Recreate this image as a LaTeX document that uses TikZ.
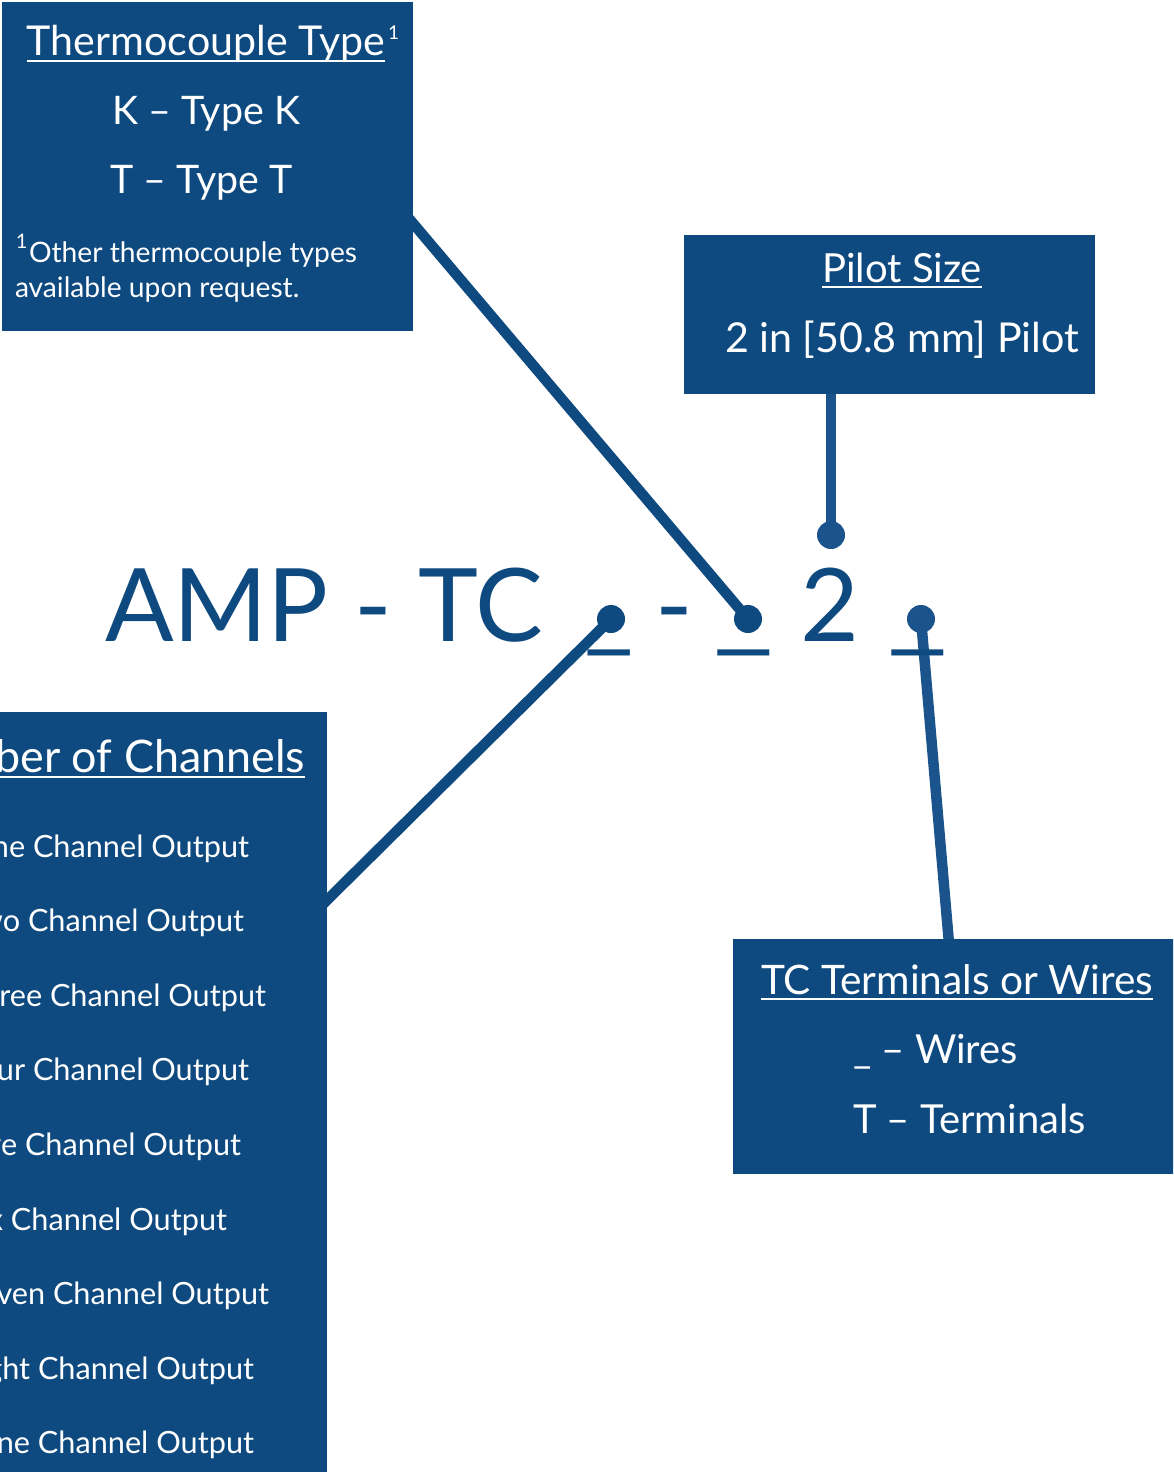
\documentclass[tikz,border=0pt]{standalone}
\usepackage{fontspec}
\setmainfont{Lato}
\usepackage{graphicx}
\usetikzlibrary{backgrounds}
\definecolor{boxc}{HTML}{0E4A7F}
\definecolor{lnc}{HTML}{1B548C}
\newsavebox\mb
\newlength\mbl
\newcommand\fitsz[3]{\sbox\mb{\fontsize{20pt}{24pt}\selectfont #2}\setlength\mbl{\wd\mb}\pgfmathsetmacro#1{20*#3/\mbl}}
\newcommand\fs[1]{\fontsize{#1pt}{#1pt}\selectfont}
\newsavebox\ulb
\newcommand\ulx[1]{\sbox\ulb{#1}\rlap{\rule[-6pt]{\wd\ulb}{2.4pt}}\usebox\ulb}
\begin{document}
\fitsz{\szTh}{Thermocouple Type}{358}%
\fitsz{\szK}{K – Type K}{188}%
\fitsz{\szFn}{Other thermocouple types}{328}%
\fitsz{\szPS}{Pilot Size}{160}%
\fitsz{\szPi}{2 in [50.8 mm] Pilot}{354}%
\fitsz{\szMain}{AMP - TC}{438}%
\fitsz{\szTCh}{TC Terminals or Wires}{392}%
\fitsz{\szTCi}{T – Terminals}{233}%
\fitsz{\szNH}{Channels}{181}%
\fitsz{\szIt}{Channel Output}{216}%
\begin{tikzpicture}[x=1pt,y=-1pt,
  box/.style={fill=boxc,draw=none,anchor=north west,inner sep=0pt,outer sep=0pt},
  wtxt/.style={text=white,inner sep=0pt,outer sep=0pt},
  btxt/.style={text=boxc,inner sep=0pt,outer sep=0pt},
  dotn/.style={circle,fill=boxc,minimum size=28pt,inner sep=0pt,outer sep=0pt},
  dotl/.style={dotn,fill=lnc},
  conn/.style={line width=10.5pt,draw=boxc},
  connl/.style={line width=10.5pt,draw=lnc}]
\useasboundingbox (0,0) rectangle (1173,1472);
\clip (0,0) rectangle (1173,1472);

% boxes
\node[box,minimum width=411pt,minimum height=329pt] (thbox) at (2,2) {};
\node[box,minimum width=411pt,minimum height=159pt] (psbox) at (684,235) {};
\node[box,minimum width=500pt,minimum height=235pt] (tcbox) at (733,939) {};
\node[box,minimum width=527pt,minimum height=800pt] (chbox) at (-200,712) {};

% thermocouple type
\node[wtxt,anchor=base west] (th0) at (27,56) {\fs{\szTh}\ulx{Thermocouple Type}};
\node[wtxt,anchor=base west] (th0s) at (388,40) {\fs{19}1};
\node[wtxt,anchor=base] (th1) at (206,124) {\fs{\szK}K – Type K};
\node[wtxt,anchor=base] (th2) at (201.5,193) {\fs{\szK}T – Type T};
\node[wtxt,anchor=base west] (thfs) at (16,248) {\fs{20}1};
\node[wtxt,anchor=base west] (thf1) at (29,262) {\fs{\szFn}Other thermocouple types};
\node[wtxt,anchor=base west] (thf2) at (15,297) {\fs{\szFn}available upon request.};

% pilot size
\node[wtxt,anchor=base west] (ps0) at (822,282) {\fs{\szPS}\ulx{Pilot Size}};
\node[wtxt,anchor=base west] (ps1) at (725,352) {\fs{\szPi}2 in [50.8 mm] Pilot};

% TC terminals
\node[wtxt,anchor=base west] (tc0) at (761,994) {\fs{\szTCh}\ulx{TC Terminals or Wires}};
\node[wtxt,anchor=base west] (tc1) at (853,1063) {\fs{\szTCi}\_ – Wires};
\node[wtxt,anchor=base west] (tc2) at (853,1133) {\fs{\szTCi}T – Terminals};

% channels
\node[wtxt,anchor=base east] (ch0) at (305,772) {\fs{\szNH}\ulx{Number of Channels}};
\node[wtxt,anchor=base east] (ch1) at (249,857) {\fs{\szIt}One Channel Output};
\node[wtxt,anchor=base east] (ch2) at (244,931.6) {\fs{\szIt}Two Channel Output};
\node[wtxt,anchor=base east] (ch3) at (266,1006.2) {\fs{\szIt}Three Channel Output};
\node[wtxt,anchor=base east] (ch4) at (249,1080.8) {\fs{\szIt}Four Channel Output};
\node[wtxt,anchor=base east] (ch5) at (241,1155.4) {\fs{\szIt}Five Channel Output};
\node[wtxt,anchor=base east] (ch6) at (227,1230) {\fs{\szIt}Six Channel Output};
\node[wtxt,anchor=base east] (ch7) at (269,1304.6) {\fs{\szIt}Seven Channel Output};
\node[wtxt,anchor=base east] (ch8) at (254,1379.2) {\fs{\szIt}Eight Channel Output};
\node[wtxt,anchor=base east] (ch9) at (254,1453.8) {\fs{\szIt}Nine Channel Output};

% part number
\node[btxt,anchor=base west] (amp) at (105,641) {\fs{\szMain}AMP - TC};
\node[btxt,anchor=base west] (u1) at (584,641) {\fs{\szMain}\scalebox{1.06}[1]{\_}};
\node[btxt,anchor=base west] (dash) at (655,641) {\fs{\szMain}-};
\node[btxt,anchor=base west] (u2) at (713,641) {\fs{\szMain}\scalebox{1.3}[1]{\_}};
\node[btxt,anchor=base west] (two) at (800,641) {\fs{\szMain}2};
\node[btxt,anchor=base west] (u3) at (887,641) {\fs{\szMain}\scalebox{1.3}[1]{\_}};

% dots
\node[dotn] (d1) at (611,619) {};
\node[dotn] (d2) at (748,619) {};
\node[dotl] (d3) at (921,619) {};
\node[dotl] (d4) at (831,535) {};

% connector ends inside boxes
\coordinate (thin) at (400,208);
\coordinate (chin) at (315,912);
\coordinate (tcin) at (950,955);

\begin{scope}[on background layer]
\draw[conn] (d2.center) -- (thin);
\draw[conn] (d1.center) -- (chin);
\draw[connl] (d3.center) -- (tcin);
\draw[connl] (d4.center) -- (d4.center |- psbox.south);
\end{scope}
\end{tikzpicture}
\end{document}
